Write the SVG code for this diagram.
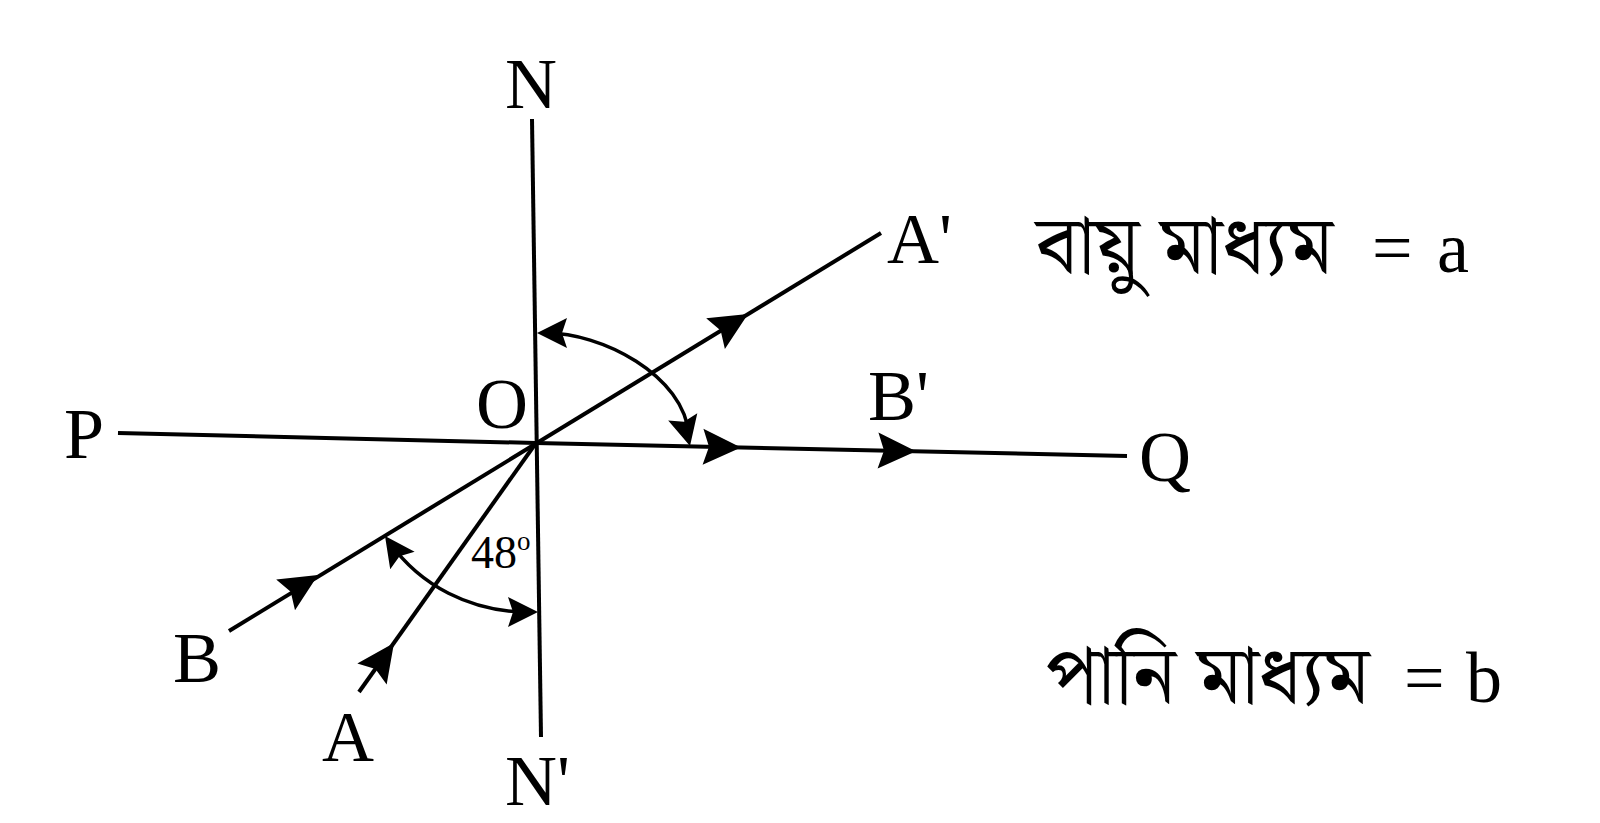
<svg xmlns="http://www.w3.org/2000/svg" xmlns:xlink="http://www.w3.org/1999/xlink" width="1600" height="823" viewBox="0 0 1600 823">
<style>
.ln{stroke:#000;stroke-width:4;fill:none;stroke-linecap:butt}
.arc{stroke:#000;stroke-width:3.5;fill:none}
.lbl{font-family:"Liberation Serif","Times New Roman",serif;font-size:72px;fill:#000}
.bn{font-family:"Noto Serif Bengali","Noto Sans Bengali","Lohit Bengali","FreeSerif","Liberation Serif",serif;font-size:82px;fill:#000}
.ah{fill:#000}
</style>
<defs>
<path id="ahL" d="M0,0 L-38,-18 L-32,0 L-38,18 Z"/>
<path id="ahS" d="M0,0 L-30,-15 L-25,0 L-30,15 Z"/>
</defs>
<rect width="1600" height="823" fill="#fff"/>
<g id="connectors">
<line id="NN" class="ln" x1="532" y1="119" x2="541" y2="737"/>
<line id="PQ1" class="ln" x1="118" y1="433" x2="536" y2="443"/>
<line id="OQ" class="ln" x1="536" y1="443" x2="1127" y2="456"/>
<line id="BA" class="ln" x1="229" y1="631" x2="881" y2="233"/>
<line id="AO" class="ln" x1="359" y1="692" x2="536" y2="443"/>
<path id="arcUpper" class="arc" d="M545,333 C600,332 685,375 689,436"/>
<path id="arcLower" class="arc" d="M390,543 C420,585 470,612 528,612"/>
<g class="ah">
<use xlink:href="#ahL" transform="translate(318,575) rotate(-31.5)"/>
<use xlink:href="#ahL" transform="translate(394,643) rotate(-54.6)"/>
<use xlink:href="#ahL" transform="translate(748,314) rotate(-31.3)"/>
<use xlink:href="#ahL" transform="translate(741,447.5) rotate(1.3)"/>
<use xlink:href="#ahL" transform="translate(916,451.3) rotate(1.3)"/>
<use xlink:href="#ahS" transform="translate(537,333) rotate(180)"/>
<use xlink:href="#ahS" transform="translate(690,446) rotate(76)"/>
<use xlink:href="#ahS" transform="translate(385,536) rotate(-125.5)"/>
<use xlink:href="#ahS" transform="translate(538,612) rotate(0)"/>
</g>
</g>
<g id="node-N"><text class="lbl" x="505" y="108">N</text></g>
<g id="node-N2"><text class="lbl" x="505" y="805">N'</text></g>
<g id="node-P"><text class="lbl" x="64" y="458">P</text></g>
<g id="node-Q"><text class="lbl" x="1139" y="481">Q</text></g>
<g id="node-O"><text class="lbl" x="476" y="428">O</text></g>
<g id="node-A1"><text class="lbl" x="887" y="263">A'</text></g>
<g id="node-B1"><text class="lbl" x="868" y="420">B'</text></g>
<g id="node-B"><text class="lbl" x="173" y="682">B</text></g>
<g id="node-A"><text class="lbl" x="322" y="761">A</text></g>
<g id="angle48"><text class="lbl" style="font-size:46px" x="471" y="568">48<tspan font-size="27" dy="-18">o</tspan></text></g>
<g id="medium-a">
<text class="bn" x="1036" y="273">বায়ু মাধ্যম</text>
<text class="lbl" x="1372" y="272">= <tspan x="1437">a</tspan></text>
</g>
<g id="medium-b">
<text class="bn" x="1046" y="703">পানি মাধ্যম</text>
<text class="lbl" x="1404" y="702">= <tspan x="1466">b</tspan></text>
</g>
</svg>
